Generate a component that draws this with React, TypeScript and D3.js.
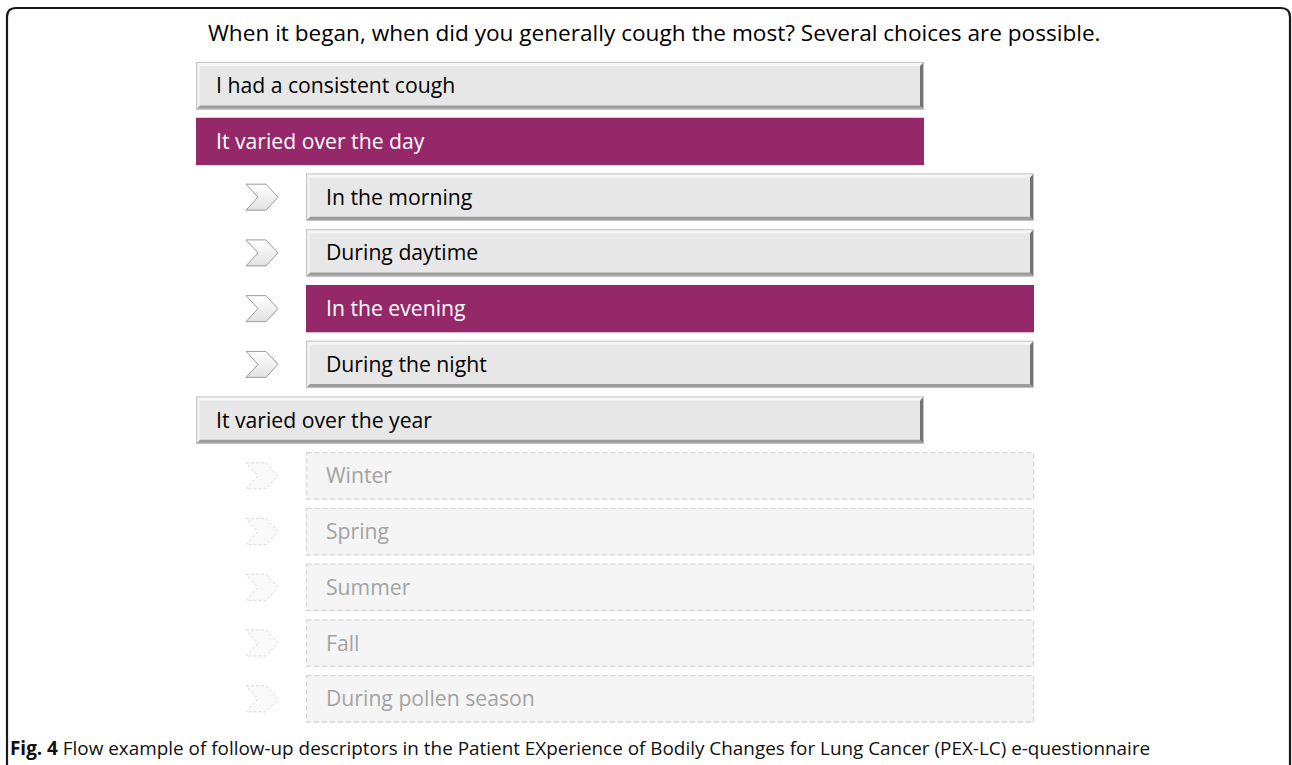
import React from "react";
import * as d3 from "d3";

const title = "When it began, when did you generally cough the most? Several choices are possible.";
const options = [
  "I had a consistent cough",
  "It varied over the day",
  "In the morning",
  "During daytime",
  "In the evening",
  "During the night",
  "It varied over the year",
  "Winter",
  "Spring",
  "Summer",
  "Fall",
  "During pollen season",
];
const levels = [0, 0, 1, 1, 1, 1, 0, 1, 1, 1, 1, 1];
// state: "normal" | "selected" | "disabled"
const states = [
  "normal", "selected", "normal", "normal", "selected", "normal",
  "normal", "disabled", "disabled", "disabled", "disabled", "disabled",
];
const captionBold = "Fig. 4";
const captionText = " Flow example of follow-up descriptors in the Patient EXperience of Bodily Changes for Lung Cancer (PEX-LC) e-questionnaire";

const W = 1292;
const H = 765;
const FONT = "'Open Sans', 'Noto Sans', sans-serif";

export default function App() {
  const y = d3.scaleBand<string>().domain(options).range([62, 722.5]).paddingInner(0.15).paddingOuter(0);
  const x = d3.scaleLinear().domain([0, 1]).range([196, 306]);
  const boxW = 728;
  const bh = y.bandwidth();
  const bv = 4;

  return (
    <div style={{ position: "absolute", left: 0, top: 0, width: W, height: H, background: "#fff" }}>
      <svg width={W} height={H} style={{ display: "block" }}>
        <defs>
          <linearGradient id="chev" x1="0" y1="0" x2="0" y2="1">
            <stop offset="0" stopColor="#ffffff" />
            <stop offset="1" stopColor="#e2e2e2" />
          </linearGradient>
        </defs>
        <path d={`M7,${H + 5} L7,17 Q7,8 16,8 L1281,8 Q1290,8 1290,17 L1290,${H + 5}`} fill="none" stroke="#1a1a1a" strokeWidth={2.2} />
        <text x={208} y={41} fontFamily={FONT} fontSize={22.6} fill="#000">{title}</text>
        {options.map((o, i) => {
          const bx = x(levels[i]);
          const by = y(o)!;
          const st = states[i];
          const cy = by + bh / 2;
          const chev = levels[i] === 1 ? (
            <path
              d={`M246,${cy - 13} L266,${cy - 13} L278,${cy} L266,${cy + 13} L246,${cy + 13} L258,${cy} Z`}
              fill={st === "disabled" ? "#fafafa" : "url(#chev)"}
              stroke={st === "disabled" ? "#d8d8d8" : "#9a9a9a"}
              strokeWidth={1}
              strokeDasharray={st === "disabled" ? "3,2" : undefined}
            />
          ) : null;
          let box;
          if (st === "selected") {
            box = <rect x={bx} y={by} width={boxW} height={bh} fill="#952868" />;
          } else if (st === "disabled") {
            box = (
              <rect x={bx + 0.5} y={by + 0.5} width={boxW - 1} height={bh - 1} fill="#f5f5f5" stroke="#d6d6d6" strokeWidth={1.3} strokeDasharray="5,3" />
            );
          } else {
            const x0 = bx, x1 = bx + boxW, y0 = by, y1 = by + bh;
            box = (
              <g>
                <rect x={x0} y={y0} width={boxW} height={bh} fill="#e7e7e7" />
                <polygon points={`${x0},${y0} ${x1},${y0} ${x1 - bv},${y0 + bv} ${x0 + bv},${y0 + bv}`} fill="#f6f6f6" />
                <polygon points={`${x0},${y0} ${x0 + bv},${y0 + bv} ${x0 + bv},${y1 - bv} ${x0},${y1}`} fill="#f0f0f0" />
                <polygon points={`${x0},${y1} ${x0 + bv},${y1 - bv} ${x1 - bv},${y1 - bv} ${x1},${y1}`} fill="#9c9c9c" />
                <polygon points={`${x1},${y0} ${x1},${y1} ${x1 - bv},${y1 - bv} ${x1 - bv},${y0 + bv}`} fill="#737373" />
                <rect x={x0 + 0.5} y={y0 + 0.5} width={boxW - 1} height={bh - 1} fill="none" stroke="#c4c4c4" strokeWidth={1} />
              </g>
            );
          }
          const color = st === "selected" ? "#ffffff" : st === "disabled" ? "#a3a3a3" : "#000000";
          return (
            <g key={o}>
              {chev}
              {box}
              <text x={bx + 20} y={cy + 7.5} fontFamily={FONT} fontSize={21.2} fill={color}>{o}</text>
            </g>
          );
        })}
        <text x={10} y={755} fontFamily={FONT} fontSize={18.9} fill="#111">
          <tspan fontWeight="bold">{captionBold}</tspan>
          <tspan>{captionText}</tspan>
        </text>
      </svg>
    </div>
  );
}
